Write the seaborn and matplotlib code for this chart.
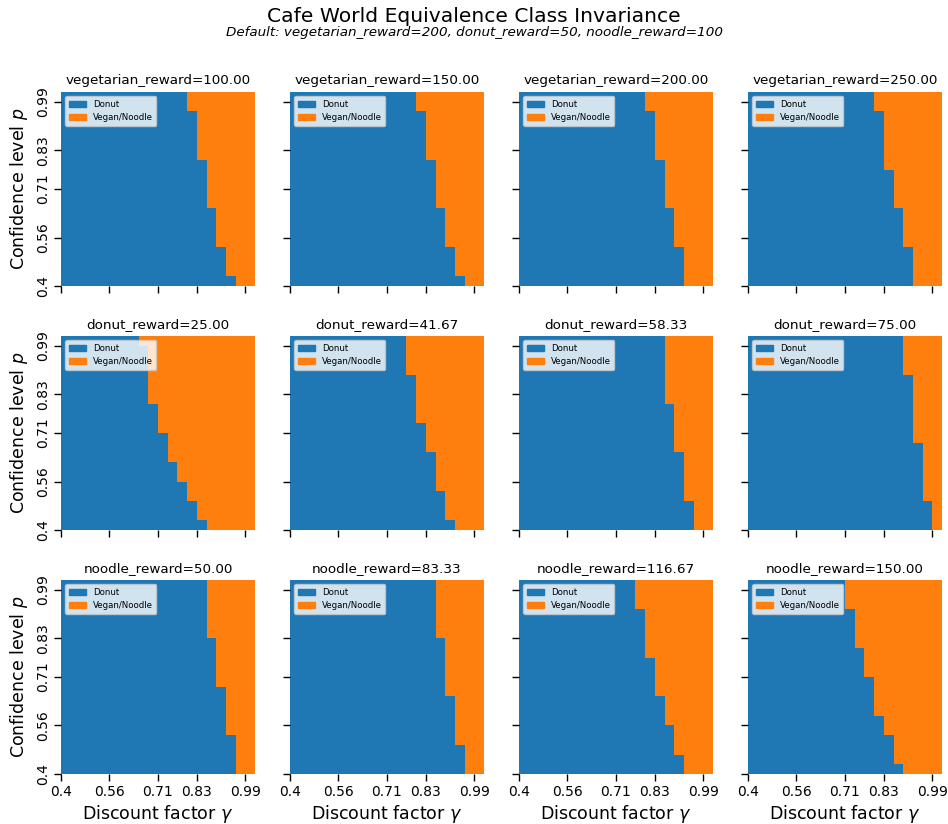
import matplotlib
matplotlib.use('Agg')

import matplotlib.pyplot as plt
import seaborn as sns
import numpy as np
from matplotlib.colors import ListedColormap
from matplotlib.patches import Patch

# grid size (gamma columns x p rows) and tick labels
n_cells = 20
tick_idx = [0, 5, 10, 14, 19]
tick_labels = ['0.4', '0.56', '0.71', '0.83', '0.99']

# panel titles
veg_titles = ['vegetarian_reward=100.00', 'vegetarian_reward=150.00',
              'vegetarian_reward=200.00', 'vegetarian_reward=250.00']
donut_titles = ['donut_reward=25.00', 'donut_reward=41.67',
                'donut_reward=58.33', 'donut_reward=75.00']
noodle_titles = ['noodle_reward=50.00', 'noodle_reward=83.33',
                 'noodle_reward=116.67', 'noodle_reward=150.00']

# number of gamma cells where Donut is chosen, per p row (bottom -> top)
veg_bounds = [
    [18, 17, 17, 17, 16, 16, 16, 16, 15, 15, 15, 15, 15, 14, 14, 14, 14, 14, 13, 13],
    [18, 17, 17, 17, 16, 16, 16, 16, 15, 15, 15, 15, 15, 14, 14, 14, 14, 14, 13, 13],
    [17, 17, 17, 17, 16, 16, 16, 16, 15, 15, 15, 15, 15, 14, 14, 14, 14, 14, 13, 13],
    [17, 17, 17, 17, 16, 16, 16, 16, 15, 15, 15, 15, 14, 14, 14, 14, 14, 14, 13, 13],
]
donut_bounds = [
    [15, 14, 14, 13, 13, 12, 12, 11, 11, 11, 10, 10, 10, 9, 9, 9, 9, 9, 9, 8],
    [17, 16, 16, 16, 15, 15, 15, 15, 14, 14, 14, 13, 13, 13, 13, 13, 12, 12, 12, 12],
    [18, 18, 18, 17, 17, 17, 17, 17, 16, 16, 16, 16, 16, 15, 15, 15, 15, 15, 15, 15],
    [19, 19, 19, 18, 18, 18, 18, 18, 18, 17, 17, 17, 17, 17, 17, 17, 16, 16, 16, 16],
]
noodle_bounds = [
    [18, 18, 18, 18, 17, 17, 17, 17, 17, 16, 16, 16, 16, 16, 15, 15, 15, 15, 15, 15],
    [18, 18, 18, 17, 17, 17, 17, 17, 16, 16, 16, 16, 16, 16, 15, 15, 15, 15, 15, 15],
    [17, 17, 16, 16, 16, 15, 15, 15, 14, 14, 14, 14, 13, 13, 13, 13, 13, 12, 12, 12],
    [16, 15, 15, 15, 14, 14, 13, 13, 13, 13, 12, 12, 12, 11, 11, 11, 11, 10, 10, 10],
]

colors = ['#1f77b4', '#ff7f0e']


def bounds_to_matrix(bounds):
    # 0 = Donut, 1 = Vegan/Noodle
    cols = np.arange(n_cells)
    return np.array([(cols >= b).astype(int) for b in bounds])


fig, axes = plt.subplots(3, 4, figsize=(9.48, 8.24), dpi=100)
fig.subplots_adjust(left=0.0643, right=0.9937, top=0.8883, bottom=0.0607,
                    wspace=0.18, hspace=0.258)

rows = [(veg_titles, veg_bounds), (donut_titles, donut_bounds),
        (noodle_titles, noodle_bounds)]

for i, (titles, bounds_list) in enumerate(rows):
    for j in range(4):
        ax = axes[i, j]
        mat = bounds_to_matrix(bounds_list[j])
        sns.heatmap(mat, ax=ax, cmap=ListedColormap(colors), vmin=0, vmax=1,
                    cbar=False, xticklabels=False, yticklabels=False)
        ax.invert_yaxis()
        ax.set_title(titles[j], fontsize=9.7)
        ax.set_xticks(tick_idx)
        ax.set_yticks(tick_idx)
        ax.tick_params(axis='both', which='both', length=5, width=1,
                       color='black', bottom=True, left=True, pad=3)
        if i == 2:
            ax.set_xticklabels(tick_labels, fontsize=10, rotation=0)
            ax.set_xlabel(r'Discount factor $\gamma$', fontsize=12.5, labelpad=3)
        else:
            ax.set_xticklabels([])
            ax.set_xlabel('')
        if j == 0:
            ax.set_yticklabels(tick_labels, fontsize=10, rotation=90, va='center')
            ax.set_ylabel(r'Confidence level $p$', fontsize=12.5)
        else:
            ax.set_yticklabels([])
            ax.set_ylabel('')
        handles = [Patch(color=colors[0], label='Donut'),
                   Patch(color=colors[1], label='Vegan/Noodle')]
        ax.legend(handles=handles, loc='upper left', fontsize=6.2, frameon=True)

fig.suptitle('Cafe World Equivalence Class Invariance', fontsize=14.6, y=0.991)
fig.text(0.5, 0.960, 'Default: vegetarian_reward=200, donut_reward=50, noodle_reward=100',
         ha='center', va='center', fontsize=9.7, style='italic')

plt.savefig('out.png', dpi=100)
